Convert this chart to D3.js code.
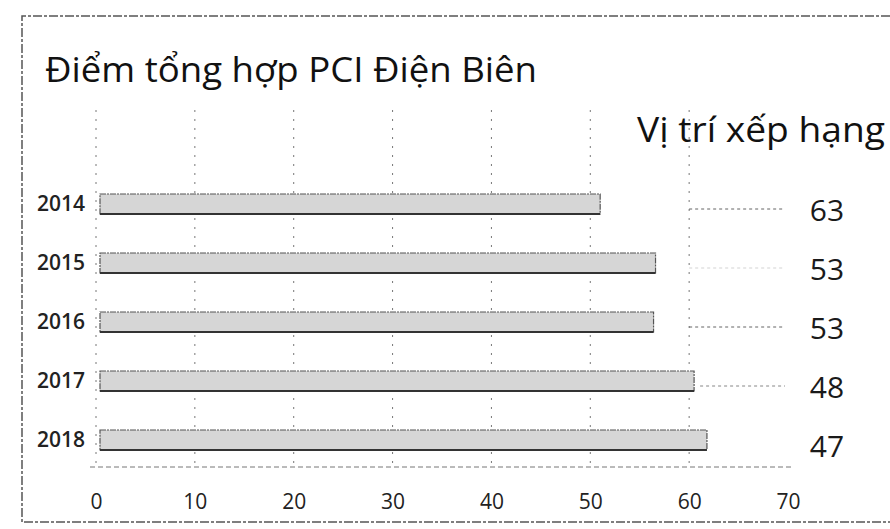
<!DOCTYPE html>
<html>
<head>
<meta charset="utf-8">
<script src="https://cdn.jsdelivr.net/npm/d3@7"></script>
<style>
  body { margin: 0; background: #fff; }
  svg { display: block; font-family: 'Open Sans', 'Noto Sans', sans-serif; }
</style>
</head>
<body>
<div id="chart"></div>
<script>
// Data
var years = ['2014', '2015', '2016', '2017', '2018'];
var scores = [51.0, 56.6, 56.4, 60.5, 61.8];
var ranks = [63, 53, 53, 48, 47];
var leaderOpacity = [0.9, 0.25, 0.9, 0.7, 0];
var xTicks = [0, 10, 20, 30, 40, 50, 60, 70];
var gridTicks = [0, 10, 20, 30, 40, 50, 60];

var svgWidth = 890;
var svgHeight = 529;

var svg = d3.select('#chart')
    .append('svg')
    .attr('width', svgWidth)
    .attr('height', svgHeight);

// Outer frame (dashed, like the scan)
svg.append('path')
    .attr('d', 'M 890 16 L 22 16 L 22 522 L 890 522')
    .attr('fill', 'none')
    .attr('stroke', '#555')
    .attr('stroke-width', 1.5)
    .attr('stroke-dasharray', '9,2,3,2');

// Scales
var xScale = d3.scaleLinear()
    .domain([0, 70])
    .range([96, 788]);

var yScale = d3.scalePoint()
    .domain(years)
    .range([204, 440]);

var barHeight = 20;
var axisY = 467;

// Gridlines
svg.append('g')
    .selectAll('line')
    .data(gridTicks)
    .enter()
    .append('line')
    .attr('x1', (d) => xScale(d))
    .attr('x2', (d) => xScale(d))
    .attr('y1', 110)
    .attr('y2', axisY)
    .attr('stroke', '#777')
    .attr('stroke-width', 1)
    .attr('stroke-dasharray', '2,7');

// Bottom axis
var bottomAxis = d3.axisBottom(xScale)
    .tickValues(xTicks)
    .tickSize(0)
    .tickPadding(27);

var xAxis = svg.append('g')
    .attr('transform', `translate(0, ${axisY})`)
    .call(bottomAxis);

xAxis.attr('font-size', null).attr('font-family', null);

xAxis.select('.domain')
    .attr('d', `M ${xScale(0) - 6} 0 H ${xScale(70) + 4}`)
    .attr('stroke', '#777')
    .attr('stroke-dasharray', '5,3');

xAxis.selectAll('text')
    .style('font-size', '21px')
    .attr('fill', '#222');

// Leader lines to the rank labels
svg.append('g')
    .selectAll('line')
    .data(years)
    .enter()
    .append('line')
    .attr('x1', (d, i) => Math.max(xScale(scores[i]) + 6, xScale(60)))
    .attr('x2', 785)
    .attr('y1', (d) => yScale(d) + 5)
    .attr('y2', (d) => yScale(d) + 5)
    .attr('stroke', '#555')
    .attr('stroke-width', 1)
    .attr('stroke-dasharray', '3,3')
    .attr('opacity', (d, i) => leaderOpacity[i]);

// Bars
svg.append('g')
    .selectAll('rect')
    .data(years)
    .enter()
    .append('rect')
    .attr('x', xScale(0) + 4)
    .attr('y', (d) => yScale(d) - barHeight / 2)
    .attr('width', (d, i) => xScale(scores[i]) - xScale(0) - 4)
    .attr('height', barHeight)
    .attr('fill', '#d6d6d6')
    .attr('stroke', '#555')
    .attr('stroke-width', 1.2)
    .attr('stroke-dasharray', '6,1,2,1');

// Bottom edge of bars (darker in the scan)
svg.append('g')
    .selectAll('line')
    .data(years)
    .enter()
    .append('line')
    .attr('x1', xScale(0) + 4)
    .attr('x2', (d, i) => xScale(scores[i]))
    .attr('y1', (d) => yScale(d) + barHeight / 2)
    .attr('y2', (d) => yScale(d) + barHeight / 2)
    .attr('stroke', '#333')
    .attr('stroke-width', 2);

// Year labels
svg.append('g')
    .selectAll('text')
    .data(years)
    .enter()
    .append('text')
    .attr('x', 85)
    .attr('y', (d) => yScale(d))
    .attr('dy', '0.35em')
    .attr('text-anchor', 'end')
    .style('font-size', '21px')
    .style('font-weight', 600)
    .attr('fill', '#222')
    .text((d) => d);

// Rank labels
svg.append('g')
    .selectAll('text')
    .data(years)
    .enter()
    .append('text')
    .attr('x', 827)
    .attr('y', (d) => yScale(d) + 6)
    .attr('dy', '0.35em')
    .attr('text-anchor', 'middle')
    .style('font-size', '30px')
    .attr('fill', '#1a1a1a')
    .text((d, i) => ranks[i]);

// Titles
svg.append('text')
    .attr('x', 45)
    .attr('y', 82)
    .style('font-size', '35px')
    .style('font-weight', 500)
    .attr('fill', '#111')
    .attr('textLength', 492)
    .attr('lengthAdjust', 'spacingAndGlyphs')
    .text('Điểm tổng hợp PCI Điện Biên');

svg.append('text')
    .attr('x', 637)
    .attr('y', 142)
    .style('font-size', '35px')
    .style('font-weight', 500)
    .attr('fill', '#111')
    .attr('textLength', 248)
    .attr('lengthAdjust', 'spacingAndGlyphs')
    .text('Vị trí xếp hạng');
</script>
</body>
</html>
